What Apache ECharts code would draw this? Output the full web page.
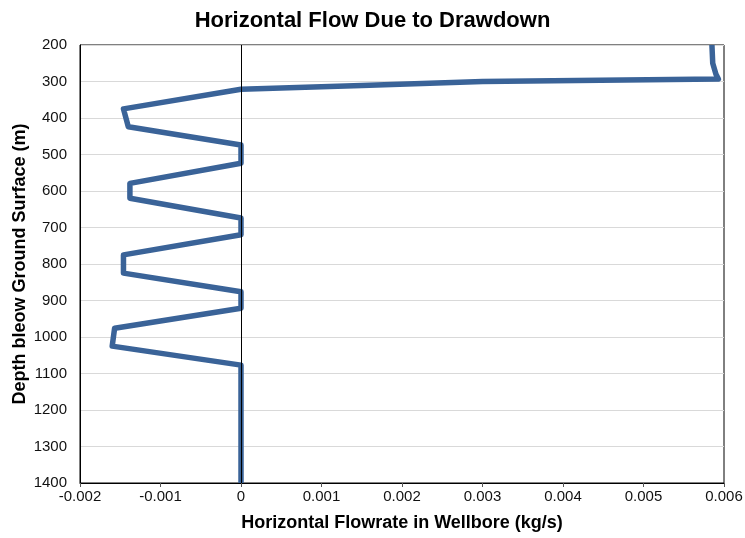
<!DOCTYPE html>
<html>
<head>
<meta charset="utf-8">
<script src="https://cdn.jsdelivr.net/npm/echarts@6/dist/echarts.min.js"></script>
<style>
  html, body { margin: 0; padding: 0; background: #fff; }
  #chart { width: 745px; height: 538px; }
</style>
</head>
<body>
<div id="chart"></div>
<script>
// Depth below ground surface (m) along the wellbore
const depths = [
  200, 250, 280, 293, 300, 311, 321,
  375, 424, 474, 524, 579, 620, 674,
  720, 775, 825, 876, 921, 976, 1025, 1077,
  1400
];
// Horizontal flowrate at each depth (kg/s)
const flowrates = [
  0.00585, 0.00586, 0.0059, 0.00593, 0.0030, 0.0015, 0,
  -0.00146, -0.00140, 0, 0, -0.00138, -0.00138, 0,
  0, -0.00146, -0.00146, 0, 0, -0.00157, -0.00160, 0,
  0
];

const chart = echarts.init(document.getElementById('chart'));
const fontFamily = '"Liberation Sans", Arial, sans-serif';

chart.setOption({
  animation: false,
  title: {
    text: 'Horizontal Flow Due to Drawdown',
    left: 'center',
    top: 5,
    textStyle: { fontFamily, fontSize: 22, fontWeight: 'bold', color: '#000' }
  },
  grid: {
    left: 80, right: 21, top: 45, bottom: 55,
    outerBoundsMode: 'none',
    show: true, borderColor: '#000', borderWidth: 1
  },
  xAxis: {
    type: 'value',
    min: -0.002, max: 0.006, interval: 0.001,
    name: 'Horizontal Flowrate in Wellbore (kg/s)',
    nameLocation: 'middle',
    nameGap: 31,
    nameMoveOverlap: false,
    nameTextStyle: { fontFamily, fontSize: 18, fontWeight: 'bold', color: '#000' },
    axisLine: { onZero: false, lineStyle: { color: '#000' } },
    axisTick: { show: true, length: 4, lineStyle: { color: '#555' } },
    axisLabel: {
      fontFamily, fontSize: 15, color: '#111', margin: 6,
      formatter: v => String(Math.round(v * 1000) / 1000)
    },
    splitLine: { show: false }
  },
  yAxis: {
    type: 'value',
    inverse: true,
    min: 200, max: 1400, interval: 100,
    name: 'Depth bleow Ground Surface (m)',
    nameLocation: 'middle',
    nameGap: 51,
    nameMoveOverlap: false,
    nameTextStyle: { fontFamily, fontSize: 18, fontWeight: 'bold', color: '#000' },
    axisLine: { show: true, onZero: false, lineStyle: { color: '#000' } },
    axisTick: { show: false },
    axisLabel: {
      fontFamily, fontSize: 15, color: '#111', margin: 13,
      formatter: v => String(v)
    },
    splitLine: { show: true, lineStyle: { color: '#d9d9d9', width: 1 } }
  },
  series: [{
    type: 'line',
    data: depths.map((d, i) => [flowrates[i], d]),
    showSymbol: false,
    lineStyle: { color: '#3a6398', width: 5.5, join: 'round' },
    markLine: {
      silent: true,
      symbol: 'none',
      label: { show: false },
      lineStyle: { color: '#000', width: 1, type: 'solid' },
      data: [{ xAxis: 0 }]
    },
    z: 3
  }]
});
</script>
</body>
</html>
